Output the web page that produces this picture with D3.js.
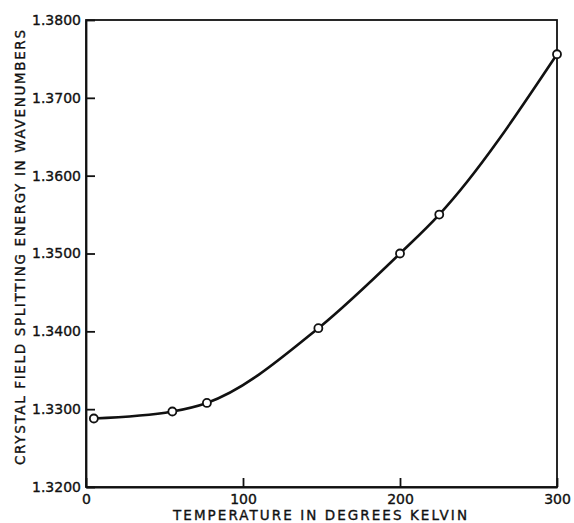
<!DOCTYPE html>
<html>
<head>
<script src="https://cdn.jsdelivr.net/npm/d3@7"></script>
<style>
  body { margin: 0; background: #fff; }
  text { font-family: "DejaVu Sans", sans-serif; fill: #111; stroke: #111; stroke-width: 0.35px; }
  .axis path, .axis line { stroke: #111; stroke-width: 1.8px; }
  .axis text { font-size: 14px; }
  .curve { fill: none; stroke: #111; stroke-width: 2.6px; }
  .pt { fill: #fff; stroke: #111; stroke-width: 1.8px; }
</style>
</head>
<body>
<svg id="chart" width="574" height="523"></svg>
<script>
// values
var temps    = [5, 55, 77, 148, 200, 225, 300];
var energies = [1.3288, 1.3297, 1.3308, 1.3404, 1.3500, 1.3550, 1.3756];
var xTicks = [0, 100, 200, 300];
var yTicks = [1.32, 1.33, 1.34, 1.35, 1.36, 1.37, 1.38];
var xTitle = "TEMPERATURE IN DEGREES KELVIN";
var yTitle = "CRYSTAL FIELD SPLITTING ENERGY IN WAVENUMBERS";

var data = temps.map(function(t, i) { return {t: t, e: energies[i]}; });

var svg = d3.select("#chart");
var margin = {left: 86, right: 557, top: 20, bottom: 487};

var x = d3.scaleLinear().domain([0, 300]).range([margin.left, margin.right]);
var y = d3.scaleLinear().domain([1.32, 1.38]).range([margin.bottom, margin.top]);

// box
svg.append("rect")
    .attr("x", margin.left).attr("y", margin.top)
    .attr("width", margin.right - margin.left).attr("height", margin.bottom - margin.top)
    .attr("fill", "none").attr("stroke", "#111").attr("stroke-width", 1.8);

svg.append("g")
    .attr("class", "axis")
    .attr("transform", "translate(0," + margin.bottom + ")")
    .call(d3.axisBottom(x).tickValues(xTicks).tickSizeInner(-9).tickSizeOuter(0).tickPadding(7));

svg.append("g")
    .attr("class", "axis")
    .attr("transform", "translate(" + margin.left + ",0)")
    .call(d3.axisLeft(y).tickValues(yTicks).tickFormat(d3.format(".4f")).tickSizeInner(-9).tickSizeOuter(0).tickPadding(5));

svg.selectAll(".axis text").attr("fill", "#111").attr("font-family", null);

// fitted curve
var line = d3.line()
    .x(function(d) { return x(d.t); })
    .y(function(d) { return y(d.e); })
    .curve(d3.curveMonotoneX);

svg.append("path")
    .datum(data)
    .attr("class", "curve")
    .attr("d", line);

svg.selectAll(".pt")
    .data(data)
  .enter().append("circle")
    .attr("class", "pt")
    .attr("cx", function(d) { return x(d.t); })
    .attr("cy", function(d) { return y(d.e); })
    .attr("r", 4);

// axis titles
svg.append("text")
    .attr("x", 173).attr("y", 520)
    .attr("font-size", 13.5)
    .attr("textLength", 294).attr("lengthAdjust", "spacing")
    .text(xTitle);

svg.append("text")
    .attr("transform", "translate(25,465) rotate(-90)")
    .attr("font-size", 13.5)
    .attr("textLength", 435).attr("lengthAdjust", "spacing")
    .text(yTitle);
</script>
</body>
</html>
